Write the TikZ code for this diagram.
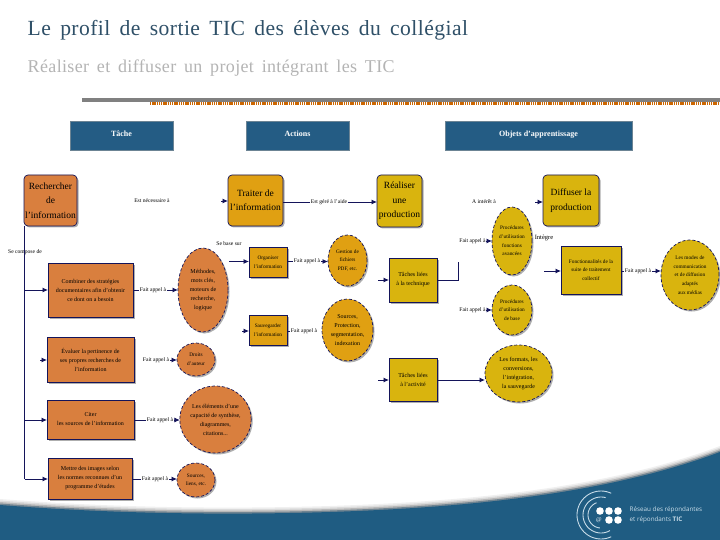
\documentclass[tikz,border=0pt]{standalone}
\usepackage{fontspec}
\setmainfont{Liberation Serif}
\newfontfamily\titlefont[LetterSpace=2,WordSpace=1.6]{Liberation Serif}
\newfontfamily\logofont{Open Sans}
\usetikzlibrary{shapes.geometric,arrows.meta,shadows}
\definecolor{navyl}{HTML}{14145A}
\definecolor{headblue}{HTML}{245C84}
\definecolor{headedge}{HTML}{6C8494}
\definecolor{orangeb}{HTML}{D97F3E}
\definecolor{goldb}{HTML}{E0A012}
\definecolor{yellowb}{HTML}{D9B40E}
\definecolor{bandblue}{HTML}{1F5C82}
\definecolor{titleblue}{HTML}{2F5068}
\definecolor{subgray}{HTML}{B4B4B4}
\definecolor{logow}{HTML}{C8DCE8}
\tikzset{
  x=1pt,y=-1pt,
  shape base/.style={draw=navyl,line width=.7pt,align=center,inner sep=0pt,outer sep=0pt,
    drop shadow={shadow xshift=1.5pt,shadow yshift=-1.5pt,fill=black!45,opacity=.7},font=\fontsize{6}{9}\selectfont},
  big/.style={font=\fontsize{9.5}{14.5}\selectfont},
  tiny text/.style={font=\fontsize{5.3}{8.6}\selectfont},
  rbox/.style={shape base,rectangle,rounded corners=4pt},
  sbox/.style={shape base,rectangle},
  oval/.style={shape base,ellipse,densely dashed},
  head/.style={rectangle,draw=headedge,fill=headblue,line width=1pt,text=white,inner sep=0pt,
    font=\fontsize{8}{10}\selectfont\bfseries},
  lbl/.style={fill=white,inner sep=.6pt,font=\fontsize{5.6}{7}\selectfont},
  link/.style={draw=navyl,line width=.8pt},
  arr/.style={link,-{Latex[length=5.5pt,width=5pt]}},
  ring/.style={draw=logow,line width=.9pt,smooth},
}
\newcommand{\bx}[6]{\node[#1,fill=#2,minimum width=#5-#3,minimum height=#6-#4] at ({(#3+#5)/2},{(#4+#6)/2})}
\newcommand{\bandpath}[1]{(0,503+#1) .. controls (90,510+#1) and (200,514+#1) .. (330,510+#1) .. controls (450,506+#1) and (600,495+#1) .. (720,450+#1) -- (720,540) -- (0,540) -- cycle}
\begin{document}
\begin{tikzpicture}
\useasboundingbox (0,0) rectangle (720,540);
\fill[white] (0,0) rectangle (720,540);
% footer band
\fill[black!6] \bandpath{-4};
\fill[black!14] \bandpath{-2.5};
\fill[black!28] \bandpath{-1};
\fill[bandblue!55!black!60] \bandpath{.5};
\fill[bandblue] \bandpath{2};
% logo
\draw[ring] plot[domain=65:295,samples=40] ({601+24*cos(\x)},{515-24*sin(\x)});
\draw[ring] plot[domain=75:300,samples=40] ({601+18*cos(\x)},{515-18*sin(\x)});
\draw[ring] plot[domain=110:265,samples=30] ({601+13*cos(\x)},{515-13*sin(\x)});
\foreach \px/\py in {600/511,609/511,618/511,609/520,618/520}
  \fill[white] (\px,\py) circle[radius=3.8];
\node[text=white,inner sep=0pt,font=\fontsize{6}{6}\selectfont] (at) at (599,520) {@};
\node[text=logow,inner sep=0pt,anchor=west,align=left,font=\logofont\fontsize{6.3}{9.5}\selectfont] (logotext) at (629.5,515) {Réseau des répondantes\\et répondants \textbf{TIC}};
% titles
\node[anchor=base west,inner sep=0pt,text=titleblue,font=\titlefont\fontsize{21.6}{24}\selectfont] (title) at (27.5,36) {Le profil de sortie TIC des élèves du collégial};
\node[anchor=base west,inner sep=0pt,text=subgray,font=\titlefont\fontsize{18}{22}\selectfont] (subtitle) at (27.5,73) {Réaliser et diffuser un projet intégrant les TIC};
% rule
\fill[black!50] (82,98) rectangle (720,102);
\draw[draw=orange!80!black,line width=3pt,dash pattern=on 1.3pt off .9pt] (150,103.5) -- (720,103.5);
% headers
\bx{head}{headblue}{70}{122}{173}{151} (h1) {\raisebox{5pt}{Tâche}};
\bx{head}{headblue}{246}{122}{349}{151} (h2) {\raisebox{5pt}{Actions}};
\bx{head}{headblue}{445}{122}{632}{151} (h3) {\raisebox{5pt}{Objets d'apprentissage}};
% top row
\bx{rbox,big}{orangeb}{24}{175}{77}{226} (rech) {Rechercher\\de\\l'information};
\bx{rbox,big}{goldb}{228}{175}{283}{226} (trait) {Traiter de\\l'information};
\bx{rbox,big}{yellowb}{377}{175}{422}{227} (real) {Réaliser\\une\\production};
\bx{rbox,big}{yellowb}{543}{175}{599}{226} (diff) {Diffuser la\\production};
% left column
\bx{sbox}{orangeb}{48}{263}{133}{317} (b1) {Combiner des stratégies\\documentaires afin d'obtenir\\ce dont on a besoin};
\bx{sbox}{orangeb}{47}{337}{134}{382} (b2) {Évaluer la pertinence de\\ses propres recherches de\\l'information};
\bx{sbox}{orangeb}{47}{400}{134}{439} (b3) {Citer\\les sources de l'information};
\bx{sbox}{orangeb}{48}{458}{132}{499} (b4) {Mettre des images selon\\les normes reconnues d'un\\programme d'études};
\bx{oval}{orangeb}{178}{248}{228}{332} (e1) {Méthodes,\\mots clés,\\moteurs de\\recherche,\\logique};
\bx{oval,tiny text}{orangeb}{177}{343}{215}{376} (e2) {Droits\\d'auteur};
\bx{oval}{orangeb}{180}{386}{251}{453} (e3) {Les éléments d'une\\capacité de synthèse,\\diagrammes,\\citations...};
\bx{oval,tiny text}{orangeb}{177}{463}{215}{497} (e4) {Sources,\\liens, etc.};
% middle
\bx{sbox,tiny text}{goldb}{249}{247}{287}{277} (org) {Organiser\\l'information};
\bx{sbox,tiny text}{goldb}{249}{315}{287}{345} (sau) {Sauvegarder\\l'information};
\bx{oval,tiny text}{goldb}{328}{235}{367}{286} (ge) {Gestion de\\fichiers\\PDF, etc.};
\bx{oval}{goldb}{322}{299}{373}{361} (so) {Sources,\\Protection,\\segmentation,\\indexation};
\bx{sbox}{yellowb}{389}{258}{437}{302} (t1) {Tâches liées\\à la technique};
\bx{sbox}{yellowb}{389}{358}{437}{401} (t2) {Tâches liées\\à l'activité};
% right
\bx{oval,tiny text}{yellowb}{492}{207}{532}{275} (p1) {Procédures\\d'utilisation\\fonctions\\avancées};
\bx{oval,tiny text}{yellowb}{492}{285}{532}{335} (p2) {Procédures\\d'utilisation\\de base};
\bx{oval}{yellowb}{485}{345}{552}{402} (p3) {Les formats, les\\conversions,\\l'intégration,\\la sauvegarde};
\bx{sbox,tiny text}{yellowb}{561}{246}{621}{294} (f) {Fonctionnalités de la\\suite de traitement\\collectif};
\bx{oval,tiny text}{yellowb}{661}{240}{719}{310} (e5) {Les modes de\\communication\\et de diffusion\\adaptés\\aux médias};
% labels and connectors
\node[lbl] (l0) at (152,201) {Est nécessaire à};
\coordinate (a0) at (221,201);
\draw[arr] (a0) -- (a0-|trait.west);
\node[lbl] (ld) at (25,252) {Se compose de};
\draw[link] (rech.south-|24.5,0) -- (24.5,479) coordinate (v4);
\coordinate (v1) at (24.5,290);
\coordinate (v3) at (24.5,420);
\coordinate (s2) at (40,360);
\draw[arr] (v1) -- (v1-|b1.west);
\draw[arr] (s2) -- (s2-|b2.west);
\draw[arr] (v3) -- (v3-|b3.west);
\draw[arr] (v4) -- (v4-|b4.west);
\node[lbl] (l1) at (153,290) {Fait appel à};
\draw[link] (b1.east|-l1) -- (l1);
\draw[arr] (l1) -- (l1-|e1.west);
\node[lbl] (l2) at (156,360) {Fait appel à};
\draw[arr] (l2) -- (l2-|e2.west);
\node[lbl] (l3) at (160,420) {Fait appel à};
\draw[link] (b3.east|-l3) -- (l3);
\draw[arr] (l3) -- (l3-|e3.west);
\node[lbl] (l4) at (155,479) {Fait appel à};
\draw[link] (b4.east|-l4) -- (l4);
\draw[arr] (l4) -- (l4-|e4.west);
\node[lbl] (l5) at (229,244) {Se base sur};
\coordinate (a5) at (229,261.5);
\draw[arr] (a5) -- (a5-|org.west);
\coordinate (a6) at (242,331);
\draw[arr] (a6) -- (a6-|sau.west);
\node[lbl] (l6) at (307,261.5) {Fait appel à};
\draw[link] (org.east|-l6) -- (l6);
\draw[arr] (l6) -- (l6-|ge.west);
\node[lbl] (l7) at (304,331) {Fait appel à};
\draw[link] (sau.east|-l7) -- (l7);
\node[lbl] (l8) at (329,202) {Est géré à l'aide};
\draw[link] (trait.east|-l8) -- (l8);
\draw[arr] (l8) -- (l8-|real.west);
\coordinate (a9) at (378,280);
\draw[arr] (a9) -- (a9-|t1.west);
\coordinate (a10) at (378,380);
\draw[arr] (a10) -- (a10-|t2.west);
\coordinate (c1) at (458,280);
\coordinate (c2) at (458,262);
\draw[link] (t1.east|-c1) -- (c1) -- (c2);
\draw[arr] (t2.east|-a10) -- (a10-|p3.west);
\node[lbl] (l9) at (472.5,241) {Fait appel à};
\draw[arr] (l9) -- (l9-|p1.west);
\node[lbl] (l10) at (472.5,310) {Fait appel à};
\draw[arr] (l10) -- (l10-|p2.west);
\node[lbl] (l11) at (484,202) {A intérêt à};
\coordinate (a11) at (535,202);
\draw[arr] (a11) -- (a11-|diff.west);
\node[lbl,anchor=west,font=\fontsize{6.5}{8}\selectfont] (l12) at (534,238) {Intègre};
\coordinate (a12) at (544,271);
\draw[arr] (a12) -- (a12-|f.west);
\node[lbl] (l13) at (638,271) {Fait appel à};
\draw[link] (f.east|-l13) -- (l13);
\draw[arr] (l13) -- (l13-|e5.west);
\end{tikzpicture}
\end{document}
